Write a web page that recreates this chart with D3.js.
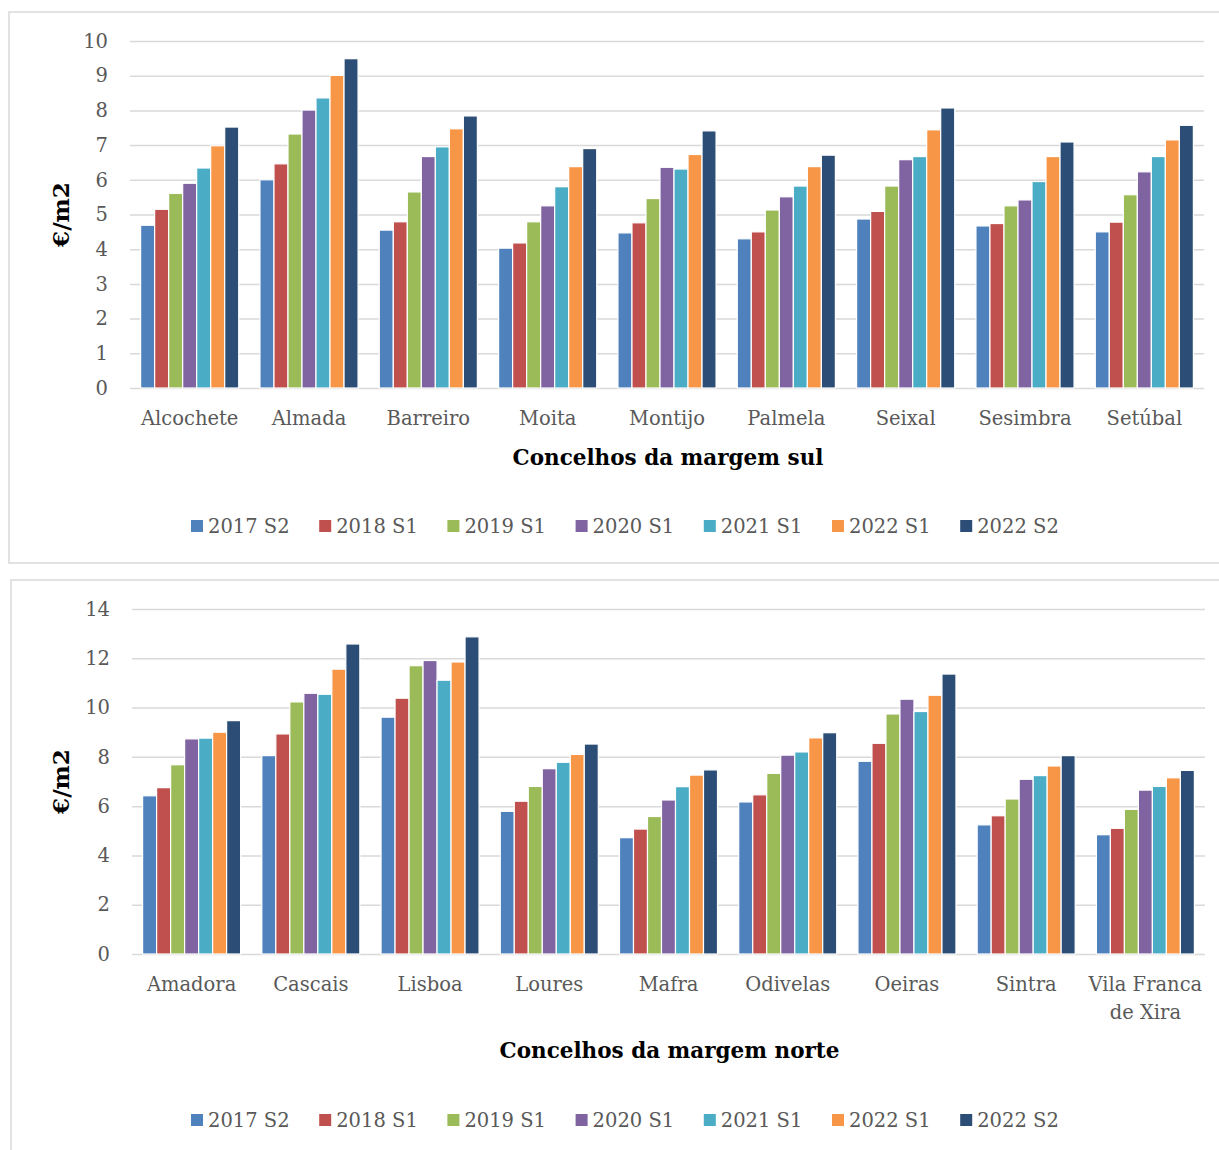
<!DOCTYPE html>
<html>
<head>
<meta charset="utf-8">
<script src="https://cdn.jsdelivr.net/npm/d3@7/dist/d3.min.js"></script>
<style>
  body{margin:0;background:#fff;}
  text{font-family:"DejaVu Serif",serif;}
</style>
</head>
<body>
<div id="chart"></div>
<script>
// series (legend order)
const seriesNames = ['2017 S2','2018 S1','2019 S1','2020 S1','2021 S1','2022 S1','2022 S2'];
const seriesColors = ['#4F81BD','#C0504D','#9BBB59','#8064A2','#4BACC6','#F79646','#2C4D75'];

// margem sul
const sulCategories = ['Alcochete','Almada','Barreiro','Moita','Montijo','Palmela','Seixal','Sesimbra','Setúbal'];
const sulValues = [
  [4.69,5.15,5.61,5.90,6.34,6.98,7.52],
  [6.00,6.46,7.32,8.01,8.36,9.01,9.49],
  [4.55,4.79,5.65,6.67,6.95,7.47,7.84],
  [4.03,4.18,4.79,5.25,5.80,6.38,6.90],
  [4.47,4.76,5.46,6.36,6.31,6.73,7.41],
  [4.30,4.50,5.13,5.51,5.82,6.38,6.71],
  [4.87,5.09,5.82,6.58,6.67,7.44,8.07],
  [4.67,4.74,5.25,5.42,5.95,6.67,7.09],
  [4.50,4.78,5.57,6.23,6.67,7.15,7.57]
];
const sulTicks = [0,1,2,3,4,5,6,7,8,9,10];

// margem norte
const norteCategories = ['Amadora','Cascais','Lisboa','Loures','Mafra','Odivelas','Oeiras','Sintra','Vila Franca de Xira'];
const norteValues = [
  [6.42,6.75,7.68,8.73,8.76,9.00,9.47],
  [8.05,8.93,10.23,10.58,10.54,11.56,12.58],
  [9.61,10.38,11.70,11.91,11.11,11.85,12.87],
  [5.79,6.20,6.80,7.52,7.78,8.10,8.52],
  [4.72,5.07,5.58,6.25,6.79,7.26,7.47],
  [6.17,6.46,7.33,8.07,8.20,8.77,8.98],
  [7.82,8.55,9.74,10.34,9.84,10.50,11.36],
  [5.24,5.61,6.29,7.09,7.24,7.63,8.05],
  [4.84,5.10,5.87,6.65,6.80,7.15,7.45]
];
const norteTicks = [0,2,4,6,8,10,12,14];

const W = 1219, H = 1150;
const svg = d3.select('#chart').append('svg').attr('width',W).attr('height',H);

function drawChart(cfg){
  const g = svg.append('g');
  // panel frame
  g.append('rect').attr('x',cfg.frame[0]).attr('y',cfg.frame[1])
    .attr('width',cfg.frame[2]).attr('height',cfg.frame[3])
    .attr('fill','none').attr('stroke','#d9d9d9').attr('stroke-width',1.5);

  const x = d3.scaleBand().domain(cfg.categories).range([cfg.left,cfg.right]).paddingInner(0).paddingOuter(0);
  const groupW = x.bandwidth()*0.822;
  const xs = d3.scaleBand().domain(seriesNames).range([0,groupW]);
  const y = d3.scaleLinear().domain([0,d3.max(cfg.ticks)]).range([cfg.bottom,cfg.top]);

  // gridlines + tick labels via axis
  const ax = g.append('g').attr('transform',`translate(${cfg.left},0)`)
    .call(d3.axisLeft(y).tickValues(cfg.ticks).tickSize(-(cfg.right-cfg.left)).tickPadding(22));
  ax.select('.domain').remove();
  ax.selectAll('.tick line').attr('stroke','#d9d9d9').attr('stroke-width',1.5);
  ax.selectAll('.tick text').attr('fill','#595959').style('font-size','19.5px')
    .style('font-family','"DejaVu Serif",serif');

  // bars
  const grp = g.selectAll('.grp').data(cfg.values).join('g')
    .attr('transform',(d,i)=>`translate(${x(cfg.categories[i]) + (x.bandwidth()-groupW)/2},0)`);
  grp.selectAll('rect').data(d=>d.map((v,j)=>({v,j}))).join('rect')
    .attr('x',d=>xs(seriesNames[d.j]))
    .attr('width',xs.bandwidth())
    .attr('y',d=>y(d.v))
    .attr('height',d=>y(0)-y(d.v))
    .attr('fill',d=>seriesColors[d.j])
    .attr('stroke','#fff').attr('stroke-width',1.2);

  // category labels
  const xa = g.append('g').attr('transform',`translate(0,${cfg.bottom})`)
    .call(d3.axisBottom(x).tickSize(0).tickPadding(0));
  xa.select('.domain').remove();
  xa.selectAll('.tick text').attr('fill','#595959').style('font-size','19.5px')
    .style('font-family','"DejaVu Serif",serif')
    .each(function(d){
      const t = d3.select(this);
      t.text(null).attr('y',0).attr('dy',null);
      const lines = d.length > 12 ? [d.split(' ').slice(0,2).join(' '), d.split(' ').slice(2).join(' ')] : [d];
      lines.forEach((ln,k)=>t.append('tspan').attr('x',0).attr('y',cfg.labelDy + k*28).text(ln));
    });

  // axis titles
  g.append('text').attr('x',(cfg.left+cfg.right)/2 + 1).attr('y',cfg.titleY)
    .attr('text-anchor','middle').style('font-weight','bold').style('font-size','21.5px')
    .attr('fill','#000').text(cfg.title);
  g.append('text').attr('transform',`translate(69,${(cfg.top+cfg.bottom)/2}) rotate(-90)`)
    .attr('text-anchor','middle').style('font-weight','bold').style('font-size','23px')
    .attr('fill','#000').text('€/m2');

  // legend
  const leg = g.append('g').attr('transform',`translate(191,${cfg.legendY})`);
  const li = leg.selectAll('g').data(seriesNames).join('g')
    .attr('transform',(d,i)=>`translate(${i*128.2},0)`);
  li.append('rect').attr('x',0).attr('y',-13).attr('width',12).attr('height',12)
    .attr('fill',(d,i)=>seriesColors[i]);
  li.append('text').attr('x',17).attr('y',0).attr('fill','#595959')
    .style('font-size','19.5px').text(d=>d);
}

drawChart({
  frame:[9,12,1220,551],
  categories:sulCategories, values:sulValues, ticks:sulTicks,
  left:130, right:1204, top:41, bottom:388,
  labelDy:37, titleY:465, legendY:533,
  title:'Concelhos da margem sul'
});

drawChart({
  frame:[11,580,1220,580],
  categories:norteCategories, values:norteValues, ticks:norteTicks,
  left:132, right:1205, top:609, bottom:954,
  labelDy:37, titleY:1058, legendY:1127,
  title:'Concelhos da margem norte'
});
</script>
</body>
</html>
